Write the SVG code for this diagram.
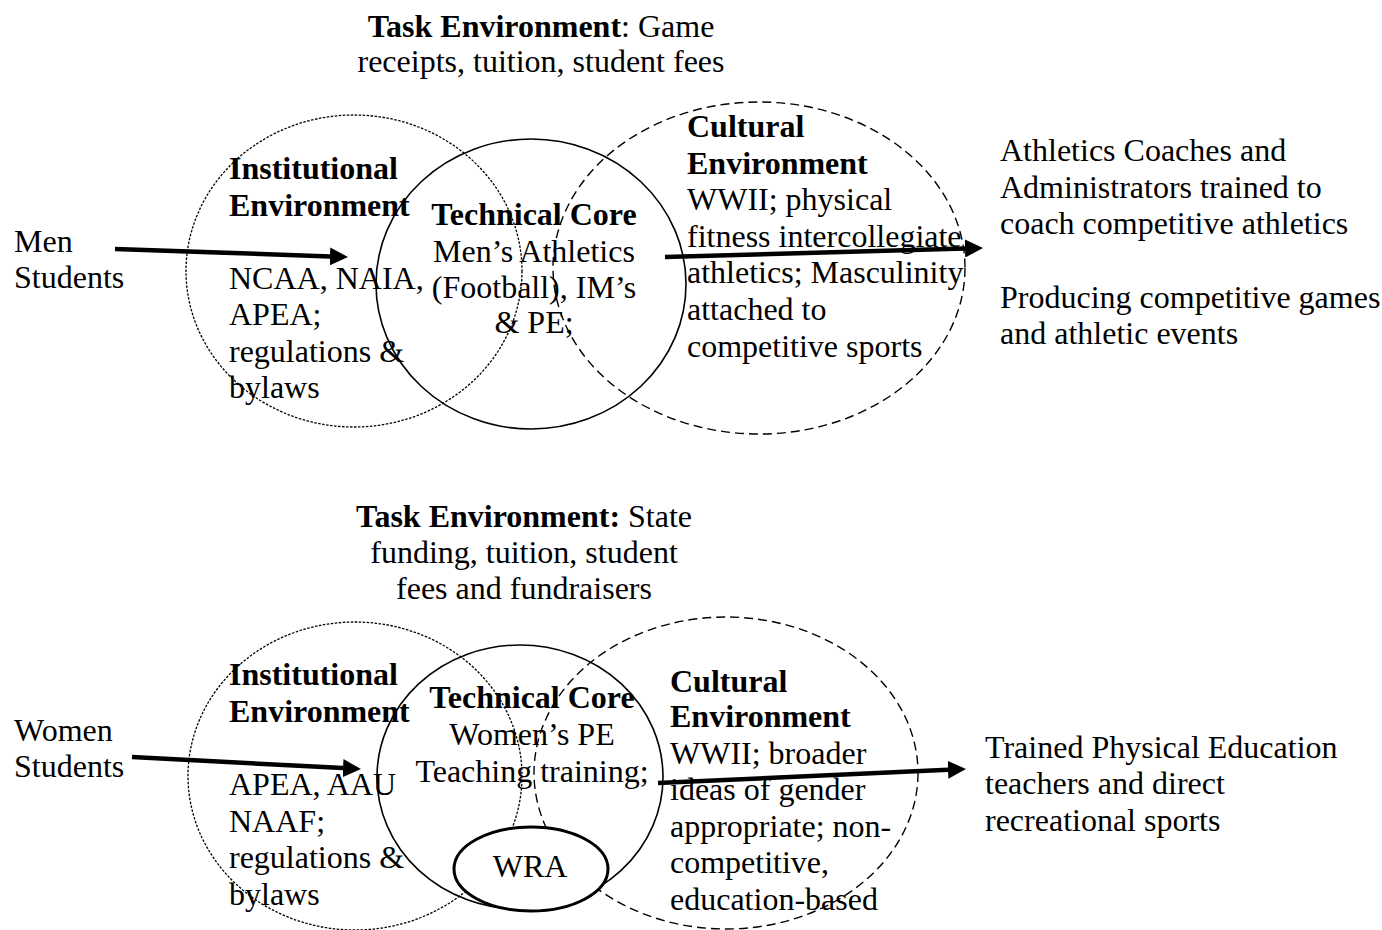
<svg xmlns="http://www.w3.org/2000/svg" width="1382" height="930" viewBox="0 0 1382 930">
<defs>
<style>
text{font-family:"Liberation Serif","Times New Roman",serif;font-size:32px;fill:#000}
.b{font-weight:bold}
.c{text-anchor:middle}
.inst{fill:none;stroke:#000;stroke-width:1.3;stroke-dasharray:2.5 1.5}
.core{fill:none;stroke:#000;stroke-width:1.6}
.cult{fill:none;stroke:#000;stroke-width:1.4;stroke-dasharray:9 5}
.wra{fill:#fff;stroke:#000;stroke-width:3}
.arr{fill:none;stroke:#000;stroke-width:4.5;marker-end:url(#ah)}
</style>
<marker id="ah" markerUnits="userSpaceOnUse" markerWidth="18" markerHeight="18" refX="0" refY="9" orient="auto" viewBox="0 0 18 18"><path d="M0,0 L18,9 L0,18 z" fill="#000"/></marker>
</defs>
<rect width="1382" height="930" fill="#fff"/>

<!-- Top row -->
<g id="men-task-env">
<text class="c" x="541" y="37"><tspan class="b">Task Environment</tspan>: Game</text>
<text class="c" x="541" y="72">receipts, tuition, student fees</text>
</g>
<g id="men-students">
<text x="14" y="252">Men</text>
<text x="14" y="288">Students</text>
</g>
<g id="men-institutional">
<ellipse class="inst" cx="354" cy="271" rx="168" ry="156"/>
<text class="b" x="229" y="179">Institutional</text>
<text class="b" x="229" y="215.5">Environment</text>
<text x="229" y="288.5">NCAA, NAIA,</text>
<text x="229" y="325">APEA;</text>
<text x="229" y="361.5">regulations &amp;</text>
<text x="229" y="398">bylaws</text>
</g>
<g id="men-core">
<ellipse class="core" cx="531" cy="284" rx="155" ry="145"/>
<text class="b c" x="534" y="225">Technical Core</text>
<text class="c" x="534" y="262">Men’s Athletics</text>
<text class="c" x="534" y="298">(Football), IM’s</text>
<text class="c" x="534" y="333">&amp; PE;</text>
</g>
<g id="men-cultural">
<ellipse class="cult" cx="759" cy="268" rx="206" ry="166"/>
<text class="b" x="687" y="137">Cultural</text>
<text class="b" x="687" y="174">Environment</text>
<text x="687" y="210">WWII; physical</text>
<text x="687" y="247">fitness intercollegiate</text>
<text x="687" y="283">athletics; Masculinity</text>
<text x="687" y="320">attached to</text>
<text x="687" y="357">competitive sports</text>
</g>
<g id="men-output">
<text x="1000" y="161">Athletics Coaches and</text>
<text x="1000" y="198">Administrators trained to</text>
<text x="1000" y="234">coach competitive athletics</text>
<text x="1000" y="308">Producing competitive games</text>
<text x="1000" y="344">and athletic events</text>
</g>

<!-- Bottom row -->
<g id="women-task-env">
<text class="c" x="524" y="527"><tspan class="b">Task Environment:</tspan> State</text>
<text class="c" x="524" y="563">funding, tuition, student</text>
<text class="c" x="524" y="599">fees and fundraisers</text>
</g>
<g id="women-students">
<text x="14" y="741">Women</text>
<text x="14" y="777">Students</text>
</g>
<g id="women-institutional">
<ellipse class="inst" cx="355" cy="776" rx="167" ry="154"/>
<text class="b" x="229" y="685">Institutional</text>
<text class="b" x="229" y="722">Environment</text>
<text x="229" y="795">APEA, AAU</text>
<text x="229" y="832">NAAF;</text>
<text x="229" y="868">regulations &amp;</text>
<text x="229" y="905">bylaws</text>
</g>
<g id="women-core">
<ellipse class="core" cx="520" cy="777" rx="143" ry="132"/>
<text class="b c" x="532" y="708">Technical Core</text>
<text class="c" x="532" y="745">Women’s PE</text>
<text class="c" x="532" y="782">Teaching training;</text>
</g>
<g id="women-cultural">
<ellipse class="cult" cx="726" cy="773" rx="192" ry="156"/>
<text class="b" x="670" y="692">Cultural</text>
<text class="b" x="670" y="727">Environment</text>
<text x="670" y="764">WWII; broader</text>
<text x="670" y="800">ideas of gender</text>
<text x="670" y="837">appropriate; non-</text>
<text x="670" y="873">competitive,</text>
<text x="670" y="910">education-based</text>
</g>
<g id="wra">
<ellipse class="wra" cx="531" cy="869" rx="77" ry="42"/>
<text class="c" x="530" y="877">WRA</text>
</g>
<g id="women-output">
<text x="985" y="758">Trained Physical Education</text>
<text x="985" y="794">teachers and direct</text>
<text x="985" y="831">recreational sports</text>
</g>

<g id="connectors">
<path class="arr" d="M115,249 L330,256.4"/>
<path class="arr" d="M665,257 L965,248.5"/>
<path class="arr" d="M132,757 L343,768.1"/>
<path class="arr" d="M658,783 L948,769.8"/>
</g>
</svg>
